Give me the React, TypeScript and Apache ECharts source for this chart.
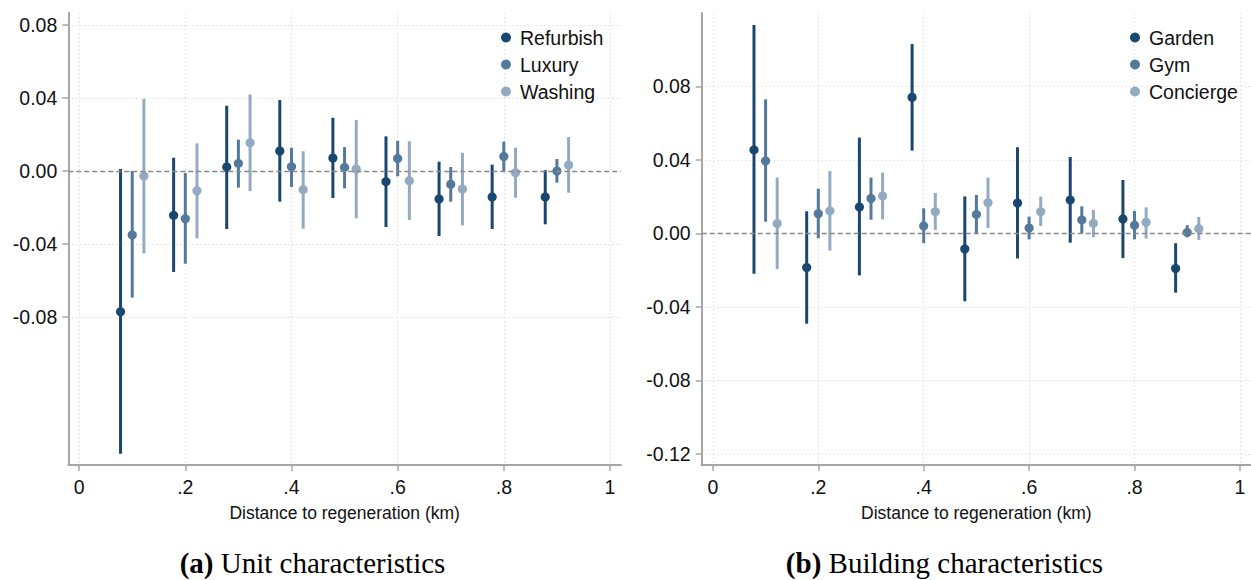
import { useEffect, useRef } from "react";
import * as echarts from "echarts";

// distance bins (km) and the small horizontal offset of each series within a bin
const binCenters = [0.1, 0.2, 0.3, 0.4, 0.5, 0.6, 0.7, 0.8, 0.9];
const seriesOffsets = [-0.022, 0, 0.022];

// (a) unit characteristics
const refurbishEst = [-0.0771, -0.0243, 0.0022, 0.011, 0.0071, -0.0058, -0.0153, -0.0142, -0.0142];
const refurbishLo = [-0.155, -0.0553, -0.0318, -0.0168, -0.0148, -0.0307, -0.0356, -0.0318, -0.0292];
const refurbishHi = [0.0011, 0.0073, 0.0358, 0.0389, 0.0292, 0.019, 0.0051, 0.0035, 0.0005];

const luxuryEst = [-0.035, -0.0261, 0.0042, 0.0024, 0.002, 0.0069, -0.0073, 0.008, 0.0];
const luxuryLo = [-0.0694, -0.0508, -0.0091, -0.0088, -0.0095, -0.0029, -0.0168, 0.0, -0.0064];
const luxuryHi = [0.0, -0.0011, 0.0172, 0.0128, 0.0131, 0.0166, 0.0022, 0.0161, 0.0066];

const washingEst = [-0.0027, -0.0108, 0.0155, -0.0102, 0.0011, -0.0053, -0.0099, -0.0009, 0.0033];
const washingLo = [-0.0451, -0.0369, -0.011, -0.0316, -0.0259, -0.0268, -0.0298, -0.0146, -0.0119];
const washingHi = [0.0396, 0.0152, 0.042, 0.0108, 0.0279, 0.0163, 0.01, 0.0128, 0.0186];

// (b) building characteristics
const gardenEst = [0.0454, -0.0186, 0.0143, 0.074, -0.0085, 0.0165, 0.0181, 0.0078, -0.0191];
const gardenLo = [-0.022, -0.0492, -0.0229, 0.045, -0.037, -0.0137, -0.0051, -0.0135, -0.0323];
const gardenHi = [0.1134, 0.012, 0.0521, 0.103, 0.0201, 0.0468, 0.0415, 0.029, -0.0054];

const gymEst = [0.0394, 0.0107, 0.019, 0.004, 0.0103, 0.0029, 0.0073, 0.0044, 0.0005];
const gymLo = [0.0063, -0.0027, 0.0074, -0.0054, 0.0, -0.0033, 0.0, -0.0033, -0.0022];
const gymHi = [0.0729, 0.0243, 0.0303, 0.0136, 0.0209, 0.0091, 0.0147, 0.0122, 0.0044];

const conciergeEst = [0.0053, 0.0122, 0.0203, 0.0118, 0.0167, 0.0118, 0.0054, 0.006, 0.0025];
const conciergeLo = [-0.0195, -0.0094, 0.0076, 0.0018, 0.0029, 0.004, -0.0022, -0.0029, -0.0036];
const conciergeHi = [0.0303, 0.0339, 0.033, 0.022, 0.0303, 0.02, 0.0127, 0.0141, 0.0089];

const xTicks = [0, 0.2, 0.4, 0.6, 0.8, 1];
const yTicksLeft = [-0.08, -0.04, 0, 0.04, 0.08];
const yTicksRight = [-0.12, -0.08, -0.04, 0, 0.04, 0.08];

const colors = ["#1a476f", "#55799b", "#93abc1"];
const sans = "Liberation Sans, Arial, sans-serif";
const serif = "Liberation Serif, Times New Roman, serif";

const toRows = (k: number, est: number[], lo: number[], hi: number[]) =>
  binCenters.map((c, i) => [c + seriesOffsets[k], lo[i], hi[i], est[i]]);

const ciSeries = (name: string, k: number, grid: number, est: number[], lo: number[], hi: number[]) => ({
  name,
  type: "custom",
  xAxisIndex: grid,
  yAxisIndex: grid,
  itemStyle: { color: colors[k] },
  encode: { x: 0, y: [1, 2, 3] },
  data: toRows(k, est, lo, hi),
  renderItem: (_params: any, api: any) => {
    const x = api.value(0);
    const a = api.coord([x, api.value(1)]);
    const b = api.coord([x, api.value(2)]);
    const p = api.coord([x, api.value(3)]);
    return {
      type: "group",
      children: [
        {
          type: "line",
          shape: { x1: a[0], y1: a[1], x2: b[0], y2: b[1] },
          style: { stroke: colors[k], lineWidth: 3 },
        },
        {
          type: "circle",
          shape: { cx: p[0], cy: p[1], r: 4.6 },
          style: { fill: colors[k] },
        },
      ],
    };
  },
  ...(k === 0
    ? {
        markLine: {
          silent: true,
          symbol: "none",
          label: { show: false },
          lineStyle: { color: "#8a8a8a", type: [5, 3], width: 1.3 },
          data: [{ yAxis: 0 }],
        },
      }
    : {}),
});

const xAxisFor = (grid: number, min: number, max: number) => ({
  type: "value",
  gridIndex: grid,
  min,
  max,
  name: "Distance to regeneration (km)",
  nameLocation: "middle",
  nameGap: 39,
  nameTextStyle: { fontFamily: sans, fontSize: 17.5, color: "#111" },
  axisLine: { show: true, onZero: false, lineStyle: { color: "#a6a6a6", width: 2 } },
  axisTick: { show: true, length: 6, customValues: xTicks, lineStyle: { color: "#a6a6a6", width: 1.5 } },
  axisLabel: {
    customValues: xTicks,
    margin: 12,
    fontFamily: sans,
    fontSize: 19.5,
    color: "#111",
    formatter: (v: number) => (v === 0 ? "0" : v === 1 ? "1" : String(Math.round(v * 10) / 10).replace("0.", ".")),
  },
  splitLine: { show: true, lineStyle: { color: "#d3d3d3", type: [1, 3], width: 1 } },
});

const yAxisFor = (grid: number, min: number, max: number, ticks: number[]) => ({
  type: "value",
  gridIndex: grid,
  min,
  max,
  axisLine: { show: true, onZero: false, lineStyle: { color: "#a6a6a6", width: 2 } },
  axisTick: { show: true, length: 6, customValues: ticks, lineStyle: { color: "#a6a6a6", width: 1.5 } },
  axisLabel: {
    customValues: ticks,
    margin: 11,
    fontFamily: sans,
    fontSize: 19.5,
    color: "#111",
    formatter: (v: number) => v.toFixed(2),
  },
  splitLine: { show: true, lineStyle: { color: "#d3d3d3", type: [1, 3], width: 1 } },
});

const legendFor = (left: number, names: string[]) => ({
  orient: "vertical",
  left,
  top: 22,
  itemWidth: 18,
  itemHeight: 10,
  itemGap: 6,
  icon: "circle",
  textStyle: { fontFamily: sans, fontSize: 19.5, color: "#111", lineHeight: 21 },
  data: names,
});

const caption = (x: number, label: string, rest: string) => ({
  type: "text",
  x,
  y: 563,
  style: {
    text: `{b|${label}} ${rest}`,
    align: "center",
    verticalAlign: "middle",
    fontFamily: serif,
    fontSize: 29,
    fill: "#000",
    rich: { b: { fontFamily: serif, fontSize: 29, fontWeight: "bold", fill: "#000" } },
  },
});

const App = () => {
  const chartRef = useRef<HTMLDivElement>(null);

  useEffect(() => {
    if (!chartRef.current) return;
    const chart = echarts.init(chartRef.current, null, { renderer: "svg" });
    chart.setOption({
      animation: false,
      backgroundColor: "#fff",
      grid: [
        { left: 68.3, top: 13, width: 552.7, height: 452 },
        { left: 701.7, top: 13, width: 555, height: 452 },
      ],
      xAxis: [xAxisFor(0, -0.0204, 1.0207), xAxisFor(1, -0.0212, 1.021)],
      yAxis: [
        yAxisFor(0, -0.1611, 0.0866, yTicksLeft),
        yAxisFor(1, -0.1261, 0.1199, yTicksRight),
      ],
      legend: [
        legendFor(496, ["Refurbish", "Luxury", "Washing"]),
        legendFor(1125, ["Garden", "Gym", "Concierge"]),
      ],
      series: [
        ciSeries("Refurbish", 0, 0, refurbishEst, refurbishLo, refurbishHi),
        ciSeries("Luxury", 1, 0, luxuryEst, luxuryLo, luxuryHi),
        ciSeries("Washing", 2, 0, washingEst, washingLo, washingHi),
        ciSeries("Garden", 0, 1, gardenEst, gardenLo, gardenHi),
        ciSeries("Gym", 1, 1, gymEst, gymLo, gymHi),
        ciSeries("Concierge", 2, 1, conciergeEst, conciergeLo, conciergeHi),
      ],
      graphic: [
        caption(312.5, "(a)", "Unit characteristics"),
        caption(944.5, "(b)", "Building characteristics"),
      ],
    });
    return () => {
      chart.dispose();
    };
  }, []);

  return (
    <div
      ref={chartRef}
      style={{ position: "absolute", left: 0, top: 0, width: "1251px", height: "580px" }}
    ></div>
  );
};

export default App;
